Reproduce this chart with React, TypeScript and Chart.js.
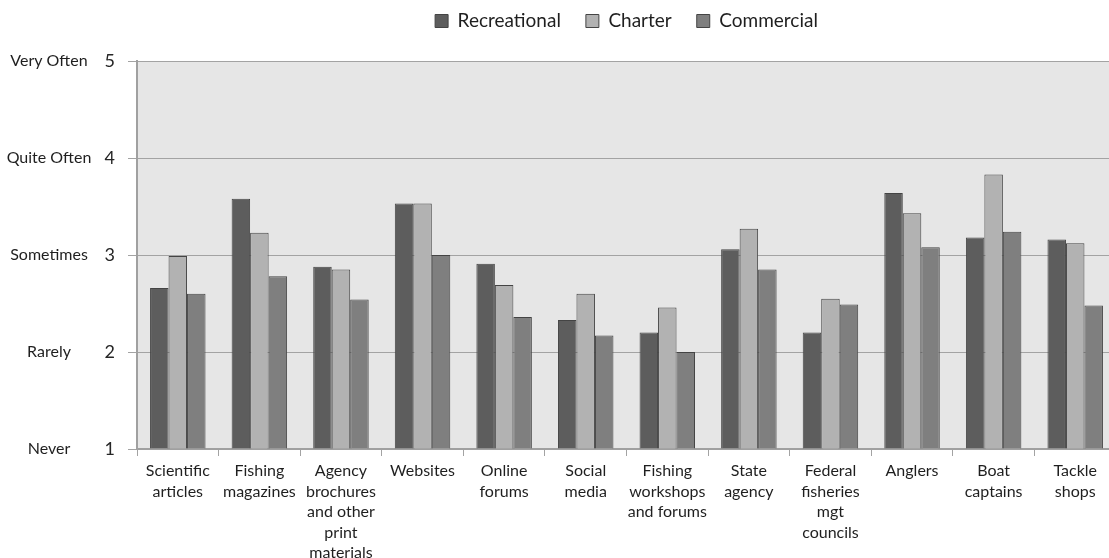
import React, { useEffect, useRef } from "react";
import { Chart, registerables } from "chart.js";

Chart.register(...registerables);

// ---- data ----
const categories: string[][] = [
  ["Scientific", "articles"],
  ["Fishing", "magazines"],
  ["Agency", "brochures", "and other", "print", "materials"],
  ["Websites"],
  ["Online", "forums"],
  ["Social", "media"],
  ["Fishing", "workshops", "and forums"],
  ["State", "agency"],
  ["Federal", "fisheries", "mgt", "councils"],
  ["Anglers"],
  ["Boat", "captains"],
  ["Tackle", "shops"],
];
const seriesNames = ["Recreational", "Charter", "Commercial"];
const recreational = [2.66, 3.58, 2.88, 3.53, 2.91, 2.33, 2.2, 3.06, 2.2, 3.64, 3.18, 3.16];
const charter = [2.99, 3.23, 2.85, 3.53, 2.69, 2.6, 2.46, 3.27, 2.55, 3.43, 3.83, 3.12];
const commercial = [2.6, 2.78, 2.54, 3.0, 2.36, 2.17, 2.0, 2.85, 2.49, 3.08, 3.24, 2.48];
const yTickValues = [1, 2, 3, 4, 5];
const yLevelLabels = ["Never", "Rarely", "Sometimes", "Quite Often", "Very Often"];

// ---- styles ----
const FONT = "Lato";
const seriesColors = ["#5d5d5d", "#b2b2b2", "#7f7f7f"];
const barBorder = "#444444";
const textColor = "#1f1f1f";
const gridColor = "#a3a3a3";
const PLOT_LEFT = 137;
const WORD_CENTER = 49;
const WORD_FONT_SIZE = 16;

function wordsAxisWidth(ctx: CanvasRenderingContext2D): number {
  ctx.save();
  ctx.font = `${WORD_FONT_SIZE}px ${FONT}`;
  const w = Math.max(...yLevelLabels.map((t) => ctx.measureText(t).width));
  ctx.restore();
  return WORD_CENTER + w / 2;
}

const plotBackground = {
  id: "plotBackground",
  beforeDraw(chart: any) {
    const { ctx, chartArea: a } = chart;
    ctx.save();
    ctx.fillStyle = "#e6e6e6";
    ctx.fillRect(a.left, a.top, a.right - a.left, a.bottom - a.top);
    ctx.restore();
  },
};

export default function App() {
  const ref = useRef<HTMLCanvasElement>(null);

  useEffect(() => {
    if (!ref.current) return;
    Chart.defaults.font.family = FONT;
    const seriesValues = [recreational, charter, commercial];
    const chart = new Chart(ref.current, {
      type: "bar",
      data: {
        labels: categories,
        datasets: seriesNames.map((name, i) => ({
          label: name,
          data: seriesValues[i],
          backgroundColor: seriesColors[i],
          borderColor: barBorder,
          borderWidth: 1,
          base: 1,
          categoryPercentage: 0.68,
          barPercentage: 1.0,
          yAxisID: "y",
        })),
      },
      options: {
        responsive: false,
        animation: false,
        devicePixelRatio: 1,
        layout: { padding: { top: -13.5, right: 4, bottom: 0, left: 0 } },
        plugins: {
          legend: {
            position: "top",
            fullSize: false,
            labels: {
              font: { size: 19, family: FONT },
              color: textColor,
              boxWidth: 13,
              boxHeight: 13,
              padding: 25,
            },
          },
          subtitle: {
            display: true,
            text: " ",
            position: "top",
            fullSize: false,
            weight: 500,
            font: { size: 10, lineHeight: 1 },
            padding: { top: 0, bottom: 10.5 },
          } as any,
          tooltip: { enabled: false },
        },
        scales: {
          x: {
            type: "category",
            offset: true,
            grid: {
              display: true,
              drawOnChartArea: false,
              drawTicks: true,
              tickLength: 7,
              offset: true,
              color: gridColor,
            },
            border: { display: true, color: "#a0a0a0", width: 2 },
            ticks: {
              font: { size: 16, family: FONT, lineHeight: 1.28 },
              color: textColor,
              padding: 5,
              maxRotation: 0,
              minRotation: 0,
              autoSkip: false,
            },
            afterFit: (scale: any) => {
              scale.height = 109;
            },
          },
          yw: {
            type: "linear",
            position: "left",
            weight: 10,
            min: 1,
            max: 5,
            grid: { display: false, drawTicks: false, drawOnChartArea: false },
            border: { display: false },
            afterBuildTicks: (scale: any) => {
              scale.ticks = yTickValues.map((v) => ({ value: v }));
            },
            ticks: {
              stepSize: 1,
              padding: 0,
              crossAlign: "center",
              font: { size: WORD_FONT_SIZE, family: FONT },
              color: textColor,
              callback: (v: any) => yLevelLabels[yTickValues.indexOf(Number(v))] ?? "",
            },
            afterFit: (scale: any) => {
              scale.width = wordsAxisWidth(scale.ctx);
            },
          },
          y: {
            type: "linear",
            position: "left",
            weight: 0,
            min: 1,
            max: 5,
            grid: {
              display: true,
              drawOnChartArea: true,
              drawTicks: true,
              tickLength: 9,
              color: gridColor,
              lineWidth: 1,
            },
            border: { display: true, color: "#a0a0a0", width: 2 },
            afterBuildTicks: (scale: any) => {
              scale.ticks = yTickValues.map((v) => ({ value: v }));
            },
            ticks: {
              stepSize: 1,
              padding: 13,
              font: { size: 18, family: FONT },
              color: "#262626",
            },
            afterFit: (scale: any) => {
              scale.width = PLOT_LEFT - wordsAxisWidth(scale.ctx);
            },
          },
        },
      },
      plugins: [plotBackground],
    } as any);
    return () => chart.destroy();
  }, []);

  return (
    <div
      style={{
        position: "fixed",
        left: 0,
        top: 0,
        width: 1109,
        height: 558,
        overflow: "hidden",
        background: "#ffffff",
      }}
    >
      <canvas ref={ref} width={1120} height={558} style={{ display: "block" }} />
    </div>
  );
}
